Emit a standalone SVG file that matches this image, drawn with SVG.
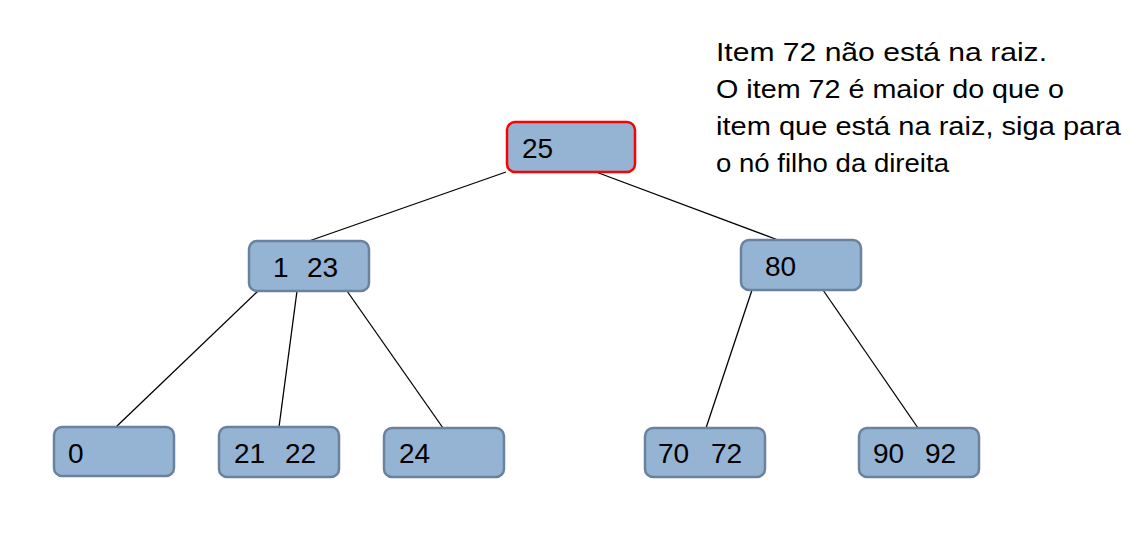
<svg xmlns="http://www.w3.org/2000/svg" width="1137" height="548" viewBox="0 0 1137 548">
<style>
.node rect{fill:#95B3D3;stroke:#6A829E;stroke-width:2.5}
.node.active rect{stroke:#FF0000}
.lbl{font-family:"Liberation Sans",Arial,sans-serif;font-size:28px;fill:#000}
.note{font-family:"Liberation Sans",Arial,sans-serif;font-size:25px;fill:#000}
#connectors line{stroke:#000;stroke-width:1.3}
</style>
<rect width="1137" height="548" fill="#fff"/>
<g id="connectors">
<line x1="506" y1="172" x2="309" y2="241"/>
<line x1="596" y1="172" x2="778" y2="240"/>
<line x1="258" y1="291" x2="116" y2="427"/>
<line x1="297" y1="291" x2="279" y2="427"/>
<line x1="347" y1="291" x2="443" y2="428"/>
<line x1="752" y1="290" x2="706" y2="428"/>
<line x1="823" y1="290" x2="918" y2="428"/>
</g>
<g id="node-25" class="node active"><rect x="507" y="122" width="128" height="50" rx="8"/><text class="lbl" x="522" y="158">25</text></g>
<g id="node-1-23" class="node"><rect x="249" y="241" width="120" height="50" rx="8"/><text class="lbl" y="277"><tspan x="273">1</tspan><tspan x="307">23</tspan></text></g>
<g id="node-80" class="node"><rect x="741" y="240" width="120" height="50" rx="8"/><text class="lbl" x="765" y="276">80</text></g>
<g id="node-0" class="node"><rect x="54" y="427" width="120" height="49" rx="8"/><text class="lbl" x="68" y="463">0</text></g>
<g id="node-21-22" class="node"><rect x="219" y="427" width="120" height="50" rx="8"/><text class="lbl" y="463"><tspan x="234">21</tspan><tspan x="285">22</tspan></text></g>
<g id="node-24" class="node"><rect x="384" y="428" width="120" height="49" rx="8"/><text class="lbl" x="399" y="463">24</text></g>
<g id="node-70-72" class="node"><rect x="645" y="428" width="120" height="49" rx="8"/><text class="lbl" y="463"><tspan x="658">70</tspan><tspan x="711">72</tspan></text></g>
<g id="node-90-92" class="node"><rect x="859" y="428" width="120" height="49" rx="8"/><text class="lbl" y="463"><tspan x="873">90</tspan><tspan x="925">92</tspan></text></g>
<g id="note">
<text class="note" x="716" y="61" textLength="331" lengthAdjust="spacingAndGlyphs">Item 72 não está na raiz.</text>
<text class="note" x="716" y="98" textLength="348" lengthAdjust="spacingAndGlyphs">O item 72 é maior do que o</text>
<text class="note" x="716" y="135" textLength="405" lengthAdjust="spacingAndGlyphs">item que está na raiz, siga para</text>
<text class="note" x="716" y="172" textLength="233" lengthAdjust="spacingAndGlyphs">o nó filho da direita</text>
</g>
</svg>
